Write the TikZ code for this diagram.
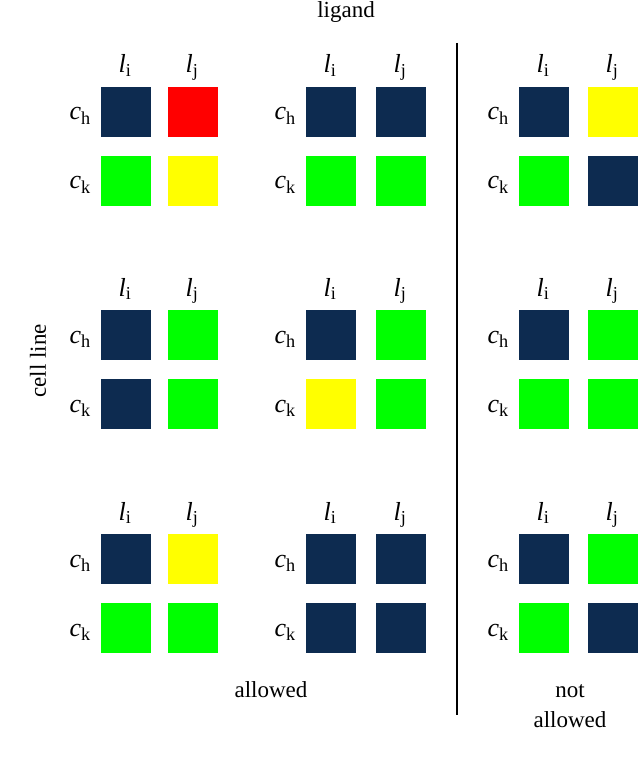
\documentclass[tikz,border=0pt]{standalone}
\usepackage{fontspec}
\setmainfont{Liberation Serif}
\definecolor{navy}{RGB}{13,43,80}
\definecolor{lgreen}{RGB}{0,255,0}
\definecolor{lyellow}{RGB}{255,255,0}
\definecolor{lred}{RGB}{255,0,0}
\tikzset{
  sq/.style={minimum size=50pt, inner sep=0pt, outer sep=0pt, draw=none, anchor=north west},
  sym/.style={font=\fontsize{26}{30}\selectfont, inner sep=0pt},
  word/.style={font=\fontsize{23}{30}\selectfont, inner sep=0pt}
}
\newcommand{\symb}[2]{\textit{#1}\textsubscript{#2}}
% #1 name, #2 x-left col1, #3 x-left col2, #4 y-top row1, #5 y-top row2, #6..#9 colours
\newcommand{\cellgrid}[9]{%
  \node[sq, fill=#6] (#1a) at (#2,#4) {};
  \node[sq, fill=#7] (#1b) at (#3,#4) {};
  \node[sq, fill=#8] (#1c) at (#2,#5) {};
  \node[sq, fill=#9] (#1d) at (#3,#5) {};
  \node[sym, anchor=base] (#1li) at ({#2+24},{#4-14}) {\symb{l}{i}};
  \node[sym, anchor=base] (#1lj) at ({#3+24},{#4-14}) {\symb{l}{j}};
  \node[sym, anchor=base east] (#1ch) at ({#2-10},{#4+33}) {\symb{c}{h}};
  \node[sym, anchor=base east] (#1ck) at ({#2-10},{#5+33}) {\symb{c}{k}};
}
\begin{document}
\begin{tikzpicture}[x=1pt,y=-1pt]
\useasboundingbox[fill=white] (0,0) rectangle (640,759);
% top row
\cellgrid{g1}{101}{168}{87}{156}{navy}{lred}{lgreen}{lyellow}
\cellgrid{g2}{306}{376}{87}{156}{navy}{navy}{lgreen}{lgreen}
\cellgrid{g3}{519}{588}{87}{156}{navy}{lyellow}{lgreen}{navy}
% middle row
\cellgrid{g4}{101}{168}{310}{379}{navy}{lgreen}{navy}{lgreen}
\cellgrid{g5}{306}{376}{310}{379}{navy}{lgreen}{lyellow}{lgreen}
\cellgrid{g6}{519}{588}{310}{379}{navy}{lgreen}{lgreen}{lgreen}
% bottom row
\cellgrid{g7}{101}{168}{534}{603}{navy}{lyellow}{lgreen}{lgreen}
\cellgrid{g8}{306}{376}{534}{603}{navy}{navy}{navy}{navy}
\cellgrid{g9}{519}{588}{534}{603}{navy}{lgreen}{lgreen}{navy}
% headings
\node[word, anchor=base] (ligand) at (346,18) {ligand};
\node[word, rotate=90] (cellline) at (38,361) {cell line};
\node[word, anchor=base] (allowed) at (271,697) {allowed};
\node[word, align=center] (notallowed) at (570,706) {not\\allowed};
% divider
\coordinate (ltop) at (457,43);
\coordinate (lbot) at (457,715);
\draw[line width=2pt] (ltop) -- (lbot);
\end{tikzpicture}
\end{document}
